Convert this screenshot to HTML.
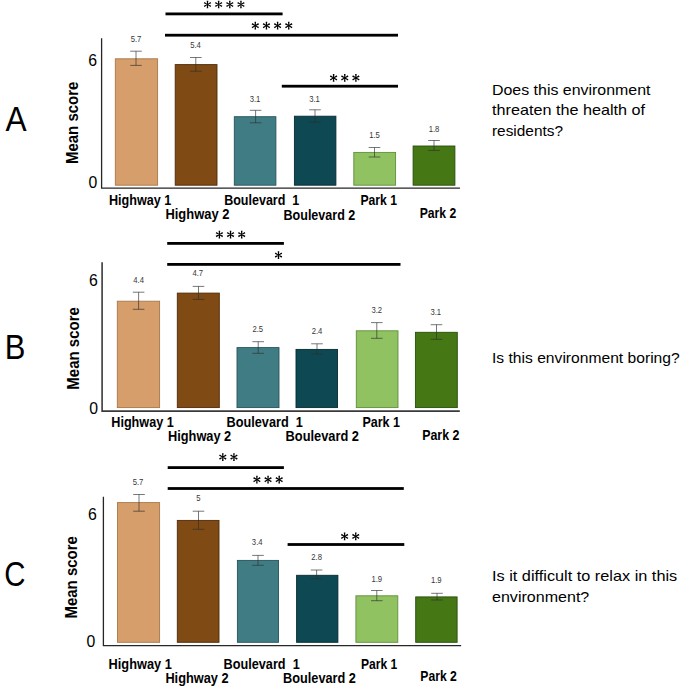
<!DOCTYPE html>
<html><head><meta charset="utf-8"><title>Figure</title>
<style>html,body{margin:0;padding:0;background:#fff}svg{display:block}text{font-family:"Liberation Sans",sans-serif}</style>
</head><body>
<svg width="685" height="689" viewBox="0 0 685 689">
<rect width="685" height="689" fill="#fff"/>
<rect x="115.3" y="58.8" width="42.3" height="126.39999999999999" fill="#D59E6A" stroke="#A97748" stroke-width="0.9"/>
<rect x="175.2" y="64.6" width="41.80000000000001" height="120.6" fill="#7F4A13" stroke="#4E2A0A" stroke-width="0.9"/>
<rect x="234.3" y="116.7" width="41.599999999999966" height="68.49999999999999" fill="#407C84" stroke="#27535A" stroke-width="0.9"/>
<rect x="294.4" y="116.2" width="41.5" height="68.99999999999999" fill="#0E4852" stroke="#062B33" stroke-width="0.9"/>
<rect x="353.8" y="152.4" width="41.80000000000001" height="32.79999999999998" fill="#90C262" stroke="#5F8F3A" stroke-width="0.9"/>
<rect x="413.1" y="146" width="41.799999999999955" height="39.19999999999999" fill="#457714" stroke="#264F0B" stroke-width="0.9"/>
<path d="M101.6 39 V188.1 H459.3" fill="none" stroke="#262626" stroke-width="1.3" stroke-linecap="square"/>
<path d="M130.2 51.2 H141.8 M130.2 65.4 H141.8 M136 51.2 V65.4" fill="none" stroke="#2e2e2e" stroke-width="0.65"/>
<path d="M190.0 57.5 H201.60000000000002 M190.0 71.2 H201.60000000000002 M195.8 57.5 V71.2" fill="none" stroke="#2e2e2e" stroke-width="0.65"/>
<path d="M249.79999999999998 110.3 H261.4 M249.79999999999998 122.8 H261.4 M255.6 110.3 V122.8" fill="none" stroke="#2e2e2e" stroke-width="0.65"/>
<path d="M309.2 109.8 H320.8 M309.2 122.2 H320.8 M315 109.8 V122.2" fill="none" stroke="#2e2e2e" stroke-width="0.65"/>
<path d="M368.7 147.5 H380.3 M368.7 157 H380.3 M374.5 147.5 V157" fill="none" stroke="#2e2e2e" stroke-width="0.65"/>
<path d="M428.2 140.5 H439.8 M428.2 150.4 H439.8 M434 140.5 V150.4" fill="none" stroke="#2e2e2e" stroke-width="0.65"/>
<text transform="translate(136,42.40) scale(1,1.15)" font-size="7.7" text-anchor="middle" fill="#363636">5.7</text>
<text transform="translate(195.5,48.10) scale(1,1.15)" font-size="7.7" text-anchor="middle" fill="#363636">5.4</text>
<text transform="translate(255,102.10) scale(1,1.15)" font-size="7.7" text-anchor="middle" fill="#363636">3.1</text>
<text transform="translate(314.5,101.80) scale(1,1.15)" font-size="7.7" text-anchor="middle" fill="#363636">3.1</text>
<text transform="translate(374.5,138.30) scale(1,1.15)" font-size="7.7" text-anchor="middle" fill="#363636">1.5</text>
<text transform="translate(434,132.00) scale(1,1.15)" font-size="7.7" text-anchor="middle" fill="#363636">1.8</text>
<rect x="165.5" y="12.5" width="117.10000000000002" height="2.8" fill="#000"/>
<rect x="165" y="33.800000000000004" width="233" height="2.8" fill="#000"/>
<rect x="281.8" y="84.8" width="116.19999999999999" height="2.8" fill="#000"/>
<path d="M207.90 4.50L208.30 0.65L206.70 0.65L207.10 4.50ZM207.70 4.85L211.23 3.27L210.43 1.88L207.30 4.15ZM207.70 4.15L204.57 1.88L203.77 3.27L207.30 4.85ZM207.10 4.50L206.70 8.35L208.30 8.35L207.90 4.50ZM207.30 4.15L203.77 5.73L204.57 7.12L207.70 4.85ZM207.30 4.85L210.43 7.12L211.23 5.73L207.70 4.15Z" fill="#000"/>
<path d="M219.05 4.50L219.45 0.65L217.85 0.65L218.25 4.50ZM218.85 4.85L222.38 3.27L221.58 1.88L218.45 4.15ZM218.85 4.15L215.72 1.88L214.92 3.27L218.45 4.85ZM218.25 4.50L217.85 8.35L219.45 8.35L219.05 4.50ZM218.45 4.15L214.92 5.73L215.72 7.12L218.85 4.85ZM218.45 4.85L221.58 7.12L222.38 5.73L218.85 4.15Z" fill="#000"/>
<path d="M230.20 4.50L230.60 0.65L229.00 0.65L229.40 4.50ZM230.00 4.85L233.53 3.27L232.73 1.88L229.60 4.15ZM230.00 4.15L226.87 1.88L226.07 3.27L229.60 4.85ZM229.40 4.50L229.00 8.35L230.60 8.35L230.20 4.50ZM229.60 4.15L226.07 5.73L226.87 7.12L230.00 4.85ZM229.60 4.85L232.73 7.12L233.53 5.73L230.00 4.15Z" fill="#000"/>
<path d="M241.35 4.50L241.75 0.65L240.15 0.65L240.55 4.50ZM241.15 4.85L244.68 3.27L243.88 1.88L240.75 4.15ZM241.15 4.15L238.02 1.88L237.22 3.27L240.75 4.85ZM240.55 4.50L240.15 8.35L241.75 8.35L241.35 4.50ZM240.75 4.15L237.22 5.73L238.02 7.12L241.15 4.85ZM240.75 4.85L243.88 7.12L244.68 5.73L241.15 4.15Z" fill="#000"/>
<path d="M255.70 25.70L256.10 21.85L254.50 21.85L254.90 25.70ZM255.50 26.05L259.03 24.47L258.23 23.08L255.10 25.35ZM255.50 25.35L252.37 23.08L251.57 24.47L255.10 26.05ZM254.90 25.70L254.50 29.55L256.10 29.55L255.70 25.70ZM255.10 25.35L251.57 26.93L252.37 28.32L255.50 26.05ZM255.10 26.05L258.23 28.32L259.03 26.93L255.50 25.35Z" fill="#000"/>
<path d="M266.85 25.70L267.25 21.85L265.65 21.85L266.05 25.70ZM266.65 26.05L270.18 24.47L269.38 23.08L266.25 25.35ZM266.65 25.35L263.52 23.08L262.72 24.47L266.25 26.05ZM266.05 25.70L265.65 29.55L267.25 29.55L266.85 25.70ZM266.25 25.35L262.72 26.93L263.52 28.32L266.65 26.05ZM266.25 26.05L269.38 28.32L270.18 26.93L266.65 25.35Z" fill="#000"/>
<path d="M278.00 25.70L278.40 21.85L276.80 21.85L277.20 25.70ZM277.80 26.05L281.33 24.47L280.53 23.08L277.40 25.35ZM277.80 25.35L274.67 23.08L273.87 24.47L277.40 26.05ZM277.20 25.70L276.80 29.55L278.40 29.55L278.00 25.70ZM277.40 25.35L273.87 26.93L274.67 28.32L277.80 26.05ZM277.40 26.05L280.53 28.32L281.33 26.93L277.80 25.35Z" fill="#000"/>
<path d="M289.15 25.70L289.55 21.85L287.95 21.85L288.35 25.70ZM288.95 26.05L292.48 24.47L291.68 23.08L288.55 25.35ZM288.95 25.35L285.82 23.08L285.02 24.47L288.55 26.05ZM288.35 25.70L287.95 29.55L289.55 29.55L289.15 25.70ZM288.55 25.35L285.02 26.93L285.82 28.32L288.95 26.05ZM288.55 26.05L291.68 28.32L292.48 26.93L288.95 25.35Z" fill="#000"/>
<path d="M334.00 77.90L334.40 74.05L332.80 74.05L333.20 77.90ZM333.80 78.25L337.33 76.67L336.53 75.28L333.40 77.55ZM333.80 77.55L330.67 75.28L329.87 76.67L333.40 78.25ZM333.20 77.90L332.80 81.75L334.40 81.75L334.00 77.90ZM333.40 77.55L329.87 79.13L330.67 80.52L333.80 78.25ZM333.40 78.25L336.53 80.52L337.33 79.13L333.80 77.55Z" fill="#000"/>
<path d="M345.15 77.90L345.55 74.05L343.95 74.05L344.35 77.90ZM344.95 78.25L348.48 76.67L347.68 75.28L344.55 77.55ZM344.95 77.55L341.82 75.28L341.02 76.67L344.55 78.25ZM344.35 77.90L343.95 81.75L345.55 81.75L345.15 77.90ZM344.55 77.55L341.02 79.13L341.82 80.52L344.95 78.25ZM344.55 78.25L347.68 80.52L348.48 79.13L344.95 77.55Z" fill="#000"/>
<path d="M356.30 77.90L356.70 74.05L355.10 74.05L355.50 77.90ZM356.10 78.25L359.63 76.67L358.83 75.28L355.70 77.55ZM356.10 77.55L352.97 75.28L352.17 76.67L355.70 78.25ZM355.50 77.90L355.10 81.75L356.70 81.75L356.30 77.90ZM355.70 77.55L352.17 79.13L352.97 80.52L356.10 78.25ZM355.70 78.25L358.83 80.52L359.63 79.13L356.10 77.55Z" fill="#000"/>
<text x="92.6" y="66.1" font-size="15.8" font-weight="normal" text-anchor="middle" fill="#000">6</text>
<text x="92.9" y="188" font-size="15.8" font-weight="normal" text-anchor="middle" fill="#000">0</text>
<text transform="translate(78.3,122.8) rotate(-90)" font-size="16.2" font-weight="bold" text-anchor="middle" textLength="82.5" lengthAdjust="spacingAndGlyphs">Mean score</text>
<text transform="translate(5.4,130.6) scale(0.905,1.002)" font-size="35">A</text>
<text x="109" y="205.3" font-size="14" font-weight="bold" text-anchor="start" fill="#000" textLength="62.30000000000001" lengthAdjust="spacingAndGlyphs" style="white-space:pre">Highway 1</text>
<text x="165.4" y="219.4" font-size="14" font-weight="bold" text-anchor="start" fill="#000" textLength="64.0" lengthAdjust="spacingAndGlyphs" style="white-space:pre">Highway 2</text>
<text x="224.2" y="205.2" font-size="14" font-weight="bold" text-anchor="start" fill="#000" textLength="75.10000000000002" lengthAdjust="spacingAndGlyphs" style="white-space:pre">Boulevard  1</text>
<text x="283.5" y="219.5" font-size="14" font-weight="bold" text-anchor="start" fill="#000" textLength="71.80000000000001" lengthAdjust="spacingAndGlyphs" style="white-space:pre">Boulevard 2</text>
<text x="360.4" y="205.4" font-size="14" font-weight="bold" text-anchor="start" fill="#000" textLength="36.60000000000002" lengthAdjust="spacingAndGlyphs" style="white-space:pre">Park 1</text>
<text x="419.7" y="218.3" font-size="14" font-weight="bold" text-anchor="start" fill="#000" textLength="36.60000000000002" lengthAdjust="spacingAndGlyphs" style="white-space:pre">Park 2</text>
<text x="492" y="95" font-size="14.6" font-weight="normal" text-anchor="start" fill="#000" textLength="158.5" lengthAdjust="spacingAndGlyphs">Does this environment</text>
<text x="492" y="115.4" font-size="14.6" font-weight="normal" text-anchor="start" fill="#000" textLength="153" lengthAdjust="spacingAndGlyphs">threaten the health of</text>
<text x="492" y="135.8" font-size="14.6" font-weight="normal" text-anchor="start" fill="#000" textLength="71" lengthAdjust="spacingAndGlyphs">residents?</text>
<rect x="117.3" y="301.2" width="42.3" height="106.40000000000003" fill="#D59E6A" stroke="#A97748" stroke-width="0.9"/>
<rect x="177.3" y="293.1" width="42.0" height="114.5" fill="#7F4A13" stroke="#4E2A0A" stroke-width="0.9"/>
<rect x="237" y="347.6" width="42" height="60.0" fill="#407C84" stroke="#27535A" stroke-width="0.9"/>
<rect x="296" y="349.4" width="41.5" height="58.200000000000045" fill="#0E4852" stroke="#062B33" stroke-width="0.9"/>
<rect x="356.3" y="330.8" width="41.69999999999999" height="76.80000000000001" fill="#90C262" stroke="#5F8F3A" stroke-width="0.9"/>
<rect x="415.4" y="332.3" width="41.900000000000034" height="75.30000000000001" fill="#457714" stroke="#264F0B" stroke-width="0.9"/>
<path d="M102.1 263 V411.15 H459" fill="none" stroke="#3a3a3a" stroke-width="1.6" stroke-linecap="square"/>
<path d="M132.79999999999998 292.2 H144.4 M132.79999999999998 309.3 H144.4 M138.6 292.2 V309.3" fill="none" stroke="#2e2e2e" stroke-width="0.65"/>
<path d="M192.7 286.4 H204.3 M192.7 299.4 H204.3 M198.5 286.4 V299.4" fill="none" stroke="#2e2e2e" stroke-width="0.65"/>
<path d="M252.39999999999998 341.7 H264.0 M252.39999999999998 353.3 H264.0 M258.2 341.7 V353.3" fill="none" stroke="#2e2e2e" stroke-width="0.65"/>
<path d="M311.2 343.8 H322.8 M311.2 354 H322.8 M317 343.8 V354" fill="none" stroke="#2e2e2e" stroke-width="0.65"/>
<path d="M371.0 322.6 H382.6 M371.0 338.3 H382.6 M376.8 322.6 V338.3" fill="none" stroke="#2e2e2e" stroke-width="0.65"/>
<path d="M430.7 324.7 H442.3 M430.7 339.3 H442.3 M436.5 324.7 V339.3" fill="none" stroke="#2e2e2e" stroke-width="0.65"/>
<text transform="translate(138.6,283.10) scale(1,1.15)" font-size="7.7" text-anchor="middle" fill="#363636">4.4</text>
<text transform="translate(197.8,275.50) scale(1,1.15)" font-size="7.7" text-anchor="middle" fill="#363636">4.7</text>
<text transform="translate(257.8,332.10) scale(1,1.15)" font-size="7.7" text-anchor="middle" fill="#363636">2.5</text>
<text transform="translate(317,334.30) scale(1,1.15)" font-size="7.7" text-anchor="middle" fill="#363636">2.4</text>
<text transform="translate(376.8,312.70) scale(1,1.15)" font-size="7.7" text-anchor="middle" fill="#363636">3.2</text>
<text transform="translate(435.8,314.80) scale(1,1.15)" font-size="7.7" text-anchor="middle" fill="#363636">3.1</text>
<rect x="167.2" y="242.0" width="116.69999999999999" height="2.8" fill="#000"/>
<rect x="167.2" y="263.0" width="233.3" height="2.8" fill="#000"/>
<path d="M219.80 234.60L220.20 230.75L218.60 230.75L219.00 234.60ZM219.60 234.95L223.13 233.37L222.33 231.98L219.20 234.25ZM219.60 234.25L216.47 231.98L215.67 233.37L219.20 234.95ZM219.00 234.60L218.60 238.45L220.20 238.45L219.80 234.60ZM219.20 234.25L215.67 235.83L216.47 237.22L219.60 234.95ZM219.20 234.95L222.33 237.22L223.13 235.83L219.60 234.25Z" fill="#000"/>
<path d="M230.95 234.60L231.35 230.75L229.75 230.75L230.15 234.60ZM230.75 234.95L234.28 233.37L233.48 231.98L230.35 234.25ZM230.75 234.25L227.62 231.98L226.82 233.37L230.35 234.95ZM230.15 234.60L229.75 238.45L231.35 238.45L230.95 234.60ZM230.35 234.25L226.82 235.83L227.62 237.22L230.75 234.95ZM230.35 234.95L233.48 237.22L234.28 235.83L230.75 234.25Z" fill="#000"/>
<path d="M242.10 234.60L242.50 230.75L240.90 230.75L241.30 234.60ZM241.90 234.95L245.43 233.37L244.63 231.98L241.50 234.25ZM241.90 234.25L238.77 231.98L237.97 233.37L241.50 234.95ZM241.30 234.60L240.90 238.45L242.50 238.45L242.10 234.60ZM241.50 234.25L237.97 235.83L238.77 237.22L241.90 234.95ZM241.50 234.95L244.63 237.22L245.43 235.83L241.90 234.25Z" fill="#000"/>
<path d="M278.90 255.10L279.30 251.25L277.70 251.25L278.10 255.10ZM278.70 255.45L282.23 253.87L281.43 252.48L278.30 254.75ZM278.70 254.75L275.57 252.48L274.77 253.87L278.30 255.45ZM278.10 255.10L277.70 258.95L279.30 258.95L278.90 255.10ZM278.30 254.75L274.77 256.33L275.57 257.72L278.70 255.45ZM278.30 255.45L281.43 257.72L282.23 256.33L278.70 254.75Z" fill="#000"/>
<text x="93.5" y="286.2" font-size="15.8" font-weight="normal" text-anchor="middle" fill="#000">6</text>
<text x="93.7" y="413.6" font-size="15.8" font-weight="normal" text-anchor="middle" fill="#000">0</text>
<text transform="translate(78.5,348.4) rotate(-90)" font-size="16.2" font-weight="bold" text-anchor="middle" textLength="82.5" lengthAdjust="spacingAndGlyphs">Mean score</text>
<text transform="translate(4.72,358.6) scale(0.884,1.01)" font-size="35">B</text>
<text x="111.3" y="427" font-size="14" font-weight="bold" text-anchor="start" fill="#000" textLength="62.39999999999999" lengthAdjust="spacingAndGlyphs" style="white-space:pre">Highway 1</text>
<text x="168" y="441" font-size="14" font-weight="bold" text-anchor="start" fill="#000" textLength="63.19999999999999" lengthAdjust="spacingAndGlyphs" style="white-space:pre">Highway 2</text>
<text x="226.6" y="427" font-size="14" font-weight="bold" text-anchor="start" fill="#000" textLength="76.20000000000002" lengthAdjust="spacingAndGlyphs" style="white-space:pre">Boulevard  1</text>
<text x="285.6" y="441" font-size="14" font-weight="bold" text-anchor="start" fill="#000" textLength="73.39999999999998" lengthAdjust="spacingAndGlyphs" style="white-space:pre">Boulevard 2</text>
<text x="362.4" y="427" font-size="14" font-weight="bold" text-anchor="start" fill="#000" textLength="37.60000000000002" lengthAdjust="spacingAndGlyphs" style="white-space:pre">Park 1</text>
<text x="422.2" y="440" font-size="14" font-weight="bold" text-anchor="start" fill="#000" textLength="37.19999999999999" lengthAdjust="spacingAndGlyphs" style="white-space:pre">Park 2</text>
<text x="492" y="363.3" font-size="14.6" font-weight="normal" text-anchor="start" fill="#000" textLength="187.70000000000005" lengthAdjust="spacingAndGlyphs">Is this environment boring?</text>
<rect x="117.5" y="502.6" width="42.099999999999994" height="139.69999999999993" fill="#D59E6A" stroke="#A97748" stroke-width="0.9"/>
<rect x="177.3" y="520.4" width="41.69999999999999" height="121.89999999999998" fill="#7F4A13" stroke="#4E2A0A" stroke-width="0.9"/>
<rect x="237.4" y="560.4" width="41.099999999999994" height="81.89999999999998" fill="#407C84" stroke="#27535A" stroke-width="0.9"/>
<rect x="296.6" y="575.3" width="41.299999999999955" height="67.0" fill="#0E4852" stroke="#062B33" stroke-width="0.9"/>
<rect x="355.9" y="595.8" width="41.900000000000034" height="46.5" fill="#90C262" stroke="#5F8F3A" stroke-width="0.9"/>
<rect x="415.7" y="596.9" width="41.400000000000034" height="45.39999999999998" fill="#457714" stroke="#264F0B" stroke-width="0.9"/>
<path d="M103.4 497.3 V645.6 H460.5" fill="none" stroke="#262626" stroke-width="1.3" stroke-linecap="square"/>
<path d="M133.2 494.5 H144.8 M133.2 511.2 H144.8 M139 494.5 V511.2" fill="none" stroke="#2e2e2e" stroke-width="0.65"/>
<path d="M192.7 511.2 H204.3 M192.7 529.3 H204.3 M198.5 511.2 V529.3" fill="none" stroke="#2e2e2e" stroke-width="0.65"/>
<path d="M252.2 555.4 H263.8 M252.2 565.3 H263.8 M258 555.4 V565.3" fill="none" stroke="#2e2e2e" stroke-width="0.65"/>
<path d="M310.8 570 H322.40000000000003 M310.8 578.8 H322.40000000000003 M316.6 570 V578.8" fill="none" stroke="#2e2e2e" stroke-width="0.65"/>
<path d="M371.0 590.5 H382.6 M371.0 600.7 H382.6 M376.8 590.5 V600.7" fill="none" stroke="#2e2e2e" stroke-width="0.65"/>
<path d="M431.2 593.3 H442.8 M431.2 600 H442.8 M437 593.3 V600" fill="none" stroke="#2e2e2e" stroke-width="0.65"/>
<text transform="translate(138,484.60) scale(1,1.15)" font-size="7.7" text-anchor="middle" fill="#363636">5.7</text>
<text transform="translate(198.5,501.10) scale(1,1.15)" font-size="7.7" text-anchor="middle" fill="#363636">5</text>
<text transform="translate(257.2,545.20) scale(1,1.15)" font-size="7.7" text-anchor="middle" fill="#363636">3.4</text>
<text transform="translate(316.6,560.10) scale(1,1.15)" font-size="7.7" text-anchor="middle" fill="#363636">2.8</text>
<text transform="translate(376.8,581.50) scale(1,1.15)" font-size="7.7" text-anchor="middle" fill="#363636">1.9</text>
<text transform="translate(436.3,583.30) scale(1,1.15)" font-size="7.7" text-anchor="middle" fill="#363636">1.9</text>
<rect x="167.7" y="466.20000000000005" width="116.19999999999999" height="2.8" fill="#000"/>
<rect x="167.7" y="487.1" width="236.10000000000002" height="2.8" fill="#000"/>
<rect x="287.6" y="543.1" width="116.69999999999999" height="2.8" fill="#000"/>
<path d="M223.20 457.10L223.60 453.25L222.00 453.25L222.40 457.10ZM223.00 457.45L226.53 455.87L225.73 454.48L222.60 456.75ZM223.00 456.75L219.87 454.48L219.07 455.87L222.60 457.45ZM222.40 457.10L222.00 460.95L223.60 460.95L223.20 457.10ZM222.60 456.75L219.07 458.33L219.87 459.72L223.00 457.45ZM222.60 457.45L225.73 459.72L226.53 458.33L223.00 456.75Z" fill="#000"/>
<path d="M234.35 457.10L234.75 453.25L233.15 453.25L233.55 457.10ZM234.15 457.45L237.68 455.87L236.88 454.48L233.75 456.75ZM234.15 456.75L231.02 454.48L230.22 455.87L233.75 457.45ZM233.55 457.10L233.15 460.95L234.75 460.95L234.35 457.10ZM233.75 456.75L230.22 458.33L231.02 459.72L234.15 457.45ZM233.75 457.45L236.88 459.72L237.68 458.33L234.15 456.75Z" fill="#000"/>
<path d="M257.30 479.70L257.70 475.85L256.10 475.85L256.50 479.70ZM257.10 480.05L260.63 478.47L259.83 477.08L256.70 479.35ZM257.10 479.35L253.97 477.08L253.17 478.47L256.70 480.05ZM256.50 479.70L256.10 483.55L257.70 483.55L257.30 479.70ZM256.70 479.35L253.17 480.93L253.97 482.32L257.10 480.05ZM256.70 480.05L259.83 482.32L260.63 480.93L257.10 479.35Z" fill="#000"/>
<path d="M268.45 479.70L268.85 475.85L267.25 475.85L267.65 479.70ZM268.25 480.05L271.78 478.47L270.98 477.08L267.85 479.35ZM268.25 479.35L265.12 477.08L264.32 478.47L267.85 480.05ZM267.65 479.70L267.25 483.55L268.85 483.55L268.45 479.70ZM267.85 479.35L264.32 480.93L265.12 482.32L268.25 480.05ZM267.85 480.05L270.98 482.32L271.78 480.93L268.25 479.35Z" fill="#000"/>
<path d="M279.60 479.70L280.00 475.85L278.40 475.85L278.80 479.70ZM279.40 480.05L282.93 478.47L282.13 477.08L279.00 479.35ZM279.40 479.35L276.27 477.08L275.47 478.47L279.00 480.05ZM278.80 479.70L278.40 483.55L280.00 483.55L279.60 479.70ZM279.00 479.35L275.47 480.93L276.27 482.32L279.40 480.05ZM279.00 480.05L282.13 482.32L282.93 480.93L279.40 479.35Z" fill="#000"/>
<path d="M345.00 536.40L345.40 532.55L343.80 532.55L344.20 536.40ZM344.80 536.75L348.33 535.17L347.53 533.78L344.40 536.05ZM344.80 536.05L341.67 533.78L340.87 535.17L344.40 536.75ZM344.20 536.40L343.80 540.25L345.40 540.25L345.00 536.40ZM344.40 536.05L340.87 537.63L341.67 539.02L344.80 536.75ZM344.40 536.75L347.53 539.02L348.33 537.63L344.80 536.05Z" fill="#000"/>
<path d="M356.15 536.40L356.55 532.55L354.95 532.55L355.35 536.40ZM355.95 536.75L359.48 535.17L358.68 533.78L355.55 536.05ZM355.95 536.05L352.82 533.78L352.02 535.17L355.55 536.75ZM355.35 536.40L354.95 540.25L356.55 540.25L356.15 536.40ZM355.55 536.05L352.02 537.63L352.82 539.02L355.95 536.75ZM355.55 536.75L358.68 539.02L359.48 537.63L355.95 536.05Z" fill="#000"/>
<text x="92.5" y="519.5" font-size="15.8" font-weight="normal" text-anchor="middle" fill="#000">6</text>
<text x="91" y="646.6" font-size="15.8" font-weight="normal" text-anchor="middle" fill="#000">0</text>
<text transform="translate(76.6,577.3) rotate(-90)" font-size="16.2" font-weight="bold" text-anchor="middle" textLength="82.5" lengthAdjust="spacingAndGlyphs">Mean score</text>
<text transform="translate(4.23,586.25) scale(0.839,1.014)" font-size="35">C</text>
<text x="108.6" y="668.6" font-size="14" font-weight="bold" text-anchor="start" fill="#000" textLength="63.20000000000002" lengthAdjust="spacingAndGlyphs" style="white-space:pre">Highway 1</text>
<text x="165.4" y="682.7" font-size="14" font-weight="bold" text-anchor="start" fill="#000" textLength="63.19999999999999" lengthAdjust="spacingAndGlyphs" style="white-space:pre">Highway 2</text>
<text x="223.6" y="668.6" font-size="14" font-weight="bold" text-anchor="start" fill="#000" textLength="76.1" lengthAdjust="spacingAndGlyphs" style="white-space:pre">Boulevard  1</text>
<text x="283" y="682.5" font-size="14" font-weight="bold" text-anchor="start" fill="#000" textLength="72.89999999999998" lengthAdjust="spacingAndGlyphs" style="white-space:pre">Boulevard 2</text>
<text x="360.9" y="668.5" font-size="14" font-weight="bold" text-anchor="start" fill="#000" textLength="36.400000000000034" lengthAdjust="spacingAndGlyphs" style="white-space:pre">Park 1</text>
<text x="420.3" y="681.1" font-size="14" font-weight="bold" text-anchor="start" fill="#000" textLength="36.5" lengthAdjust="spacingAndGlyphs" style="white-space:pre">Park 2</text>
<text x="492" y="581.1" font-size="14.6" font-weight="normal" text-anchor="start" fill="#000" textLength="185.20000000000005" lengthAdjust="spacingAndGlyphs">Is it difficult to relax in this</text>
<text x="492" y="601.5" font-size="14.6" font-weight="normal" text-anchor="start" fill="#000" textLength="97.29999999999995" lengthAdjust="spacingAndGlyphs">environment?</text>
</svg></body></html>
